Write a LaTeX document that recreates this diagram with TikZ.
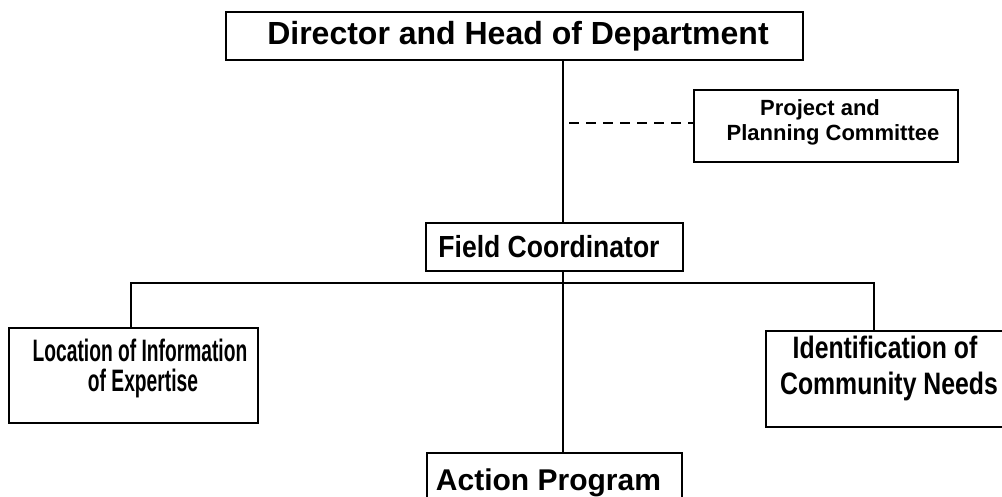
\documentclass[tikz,border=0pt]{standalone}
\usepackage{fontspec}
\setmainfont{Liberation Sans}
\newfontfamily\condL[FakeStretch=0.62]{Liberation Sans}
\newfontfamily\condR[FakeStretch=0.8]{Liberation Sans}
\newfontfamily\condF[FakeStretch=0.87]{Liberation Sans}
\begin{document}
\begin{tikzpicture}[x=1pt,y=-1pt,
  box/.style={draw=black,line width=2pt,rectangle,inner sep=0pt,fill=white},
  conn/.style={draw=black,line width=2pt},
  lbl/.style={anchor=base,inner sep=0pt,font=\bfseries}]
\useasboundingbox (0,0) rectangle (1002,497);
\clip (0,0) rectangle (1002,497);
\fill[white] (0,0) rectangle (1002,497);
% boxes
\node[box,minimum width=577pt,minimum height=48pt] (top) at (514.5,36) {};
\node[box,minimum width=264pt,minimum height=72pt] (proj) at (826,126) {};
\node[box,minimum width=257pt,minimum height=48pt] (fc) at (554.5,247) {};
\node[box,minimum width=249pt,minimum height=95pt] (lbox) at (133.5,375) {};
\node[box,minimum width=244pt,minimum height=96pt] (rbox) at (888,379) {};
\node[box,minimum width=255pt,minimum height=70pt] (abox) at (554.5,488) {};
% texts
\node[lbl,font=\bfseries\fontsize{32}{38}\selectfont] (ttop) at (518,45) {Director and Head of Department};
\node[lbl,font=\bfseries\fontsize{22}{26}\selectfont] (tproj1) at (820,116) {Project and};
\node[lbl,font=\bfseries\fontsize{22}{26}\selectfont] (tproj2) at (833,141) {Planning Committee};
\node[lbl,font=\condF\bfseries\fontsize{30.5}{36}\selectfont] (tfc) at (549,258) {Field Coordinator};
\node[lbl,font=\condL\bfseries\fontsize{31}{36}\selectfont] (tl1) at (140,361) {Location of Information};
\node[lbl,font=\condL\bfseries\fontsize{31}{36}\selectfont] (tl2) at (143,391) {of Expertise};
\node[lbl,font=\condR\bfseries\fontsize{31}{36}\selectfont] (tr1) at (885,358) {Identification of};
\node[lbl,font=\condR\bfseries\fontsize{31}{36}\selectfont] (tr2) at (889,394) {Community Needs};
\node[lbl,font=\bfseries\fontsize{30}{36}\selectfont] (tact) at (548.5,490) {Action Program};
% connectors
\coordinate (spine) at (563,0);
\coordinate (busy) at (0,283);
\coordinate (ldrop) at (131,0);
\coordinate (rdrop) at (874,0);
\coordinate (dashstart) at (569,123);
\draw[conn] (top.south -| spine) -- (fc.north -| spine);
\draw[conn,line width=1.6pt,dash pattern=on 10pt off 7pt] (dashstart) -- (proj.west |- dashstart);
\draw[conn] (lbox.north -| ldrop) -- (ldrop |- busy) -- (rdrop |- busy) -- (rbox.north -| rdrop);
\draw[conn] (fc.south -| spine) -- (abox.north -| spine);
\end{tikzpicture}
\end{document}
